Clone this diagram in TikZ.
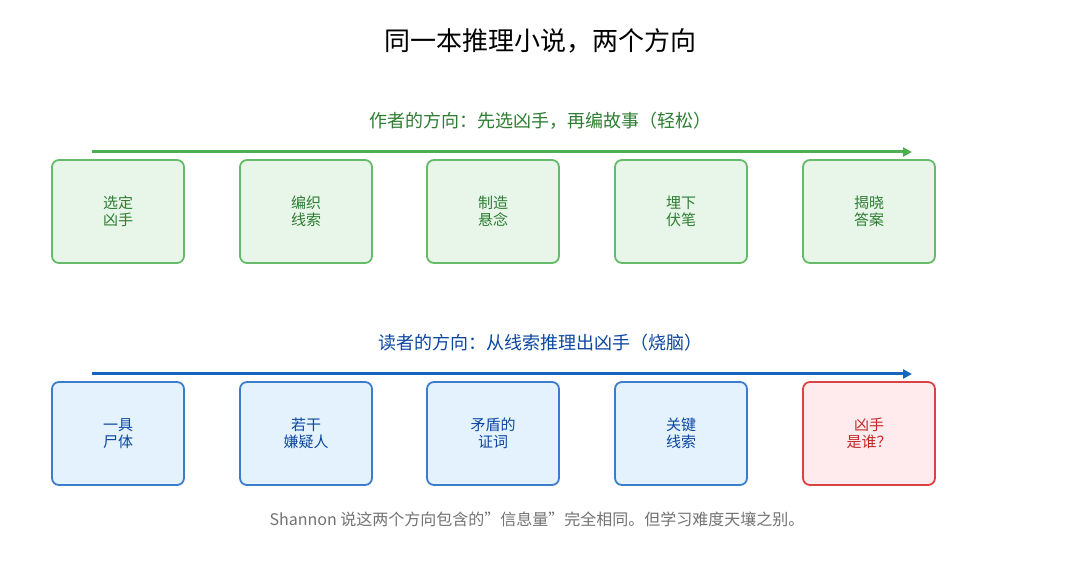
\documentclass[tikz,border=0pt]{standalone}
\usepackage{fontspec}
\setmainfont{Noto Sans CJK SC}
\usetikzlibrary{positioning,arrows.meta}
\definecolor{gline}{HTML}{66BB6A}
\definecolor{gfill}{HTML}{E8F5E9}
\definecolor{gtext}{HTML}{2E7D32}
\definecolor{garrow}{HTML}{4CAF50}
\definecolor{bline}{HTML}{3C7DCB}
\definecolor{bfill}{HTML}{E3F2FD}
\definecolor{btext}{HTML}{0D47A1}
\definecolor{barrow}{HTML}{1565C0}
\definecolor{rline}{HTML}{D94343}
\definecolor{rfill}{HTML}{FFEBEE}
\definecolor{rtext}{HTML}{C62828}
\tikzset{
  stage/.style={draw, line width=1.8pt, rounded corners=7pt, minimum width=132pt,
    minimum height=103pt, align=center, font=\fontsize{15}{17}\selectfont},
  gstep/.style={stage, draw=gline, fill=gfill, text=gtext},
  bstep/.style={stage, draw=bline, fill=bfill, text=btext},
  rstep/.style={stage, draw=rline, fill=rfill, text=rtext},
  flow/.style={line width=3pt, -{Triangle[length=9pt,width=9pt]}}
}
\begin{document}
\begin{tikzpicture}[x=1pt,y=-1pt]
  \useasboundingbox[fill=white] (0,0) rectangle (1080,561);
  % title
  \node (title) at (540,41) {\fontsize{26}{30}\selectfont 同一本推理小说，两个方向};
  % author direction
  \node[text=gtext] (ahead) at (540,121) {\fontsize{18}{22}\selectfont 作者的方向：先选凶手，再编故事（轻松）};
  \coordinate (as) at (92,152);
  \coordinate (ae) at (912,152);
  \draw[flow, garrow] (as) -- (ae);
  \node[gstep] (a1) at (118,211.5) {选定\\凶手};
  \node[gstep] (a2) at (306,211.5) {编织\\线索};
  \node[gstep] (a3) at (493,211.5) {制造\\悬念};
  \node[gstep] (a4) at (681,211.5) {埋下\\伏笔};
  \node[gstep] (a5) at (869,211.5) {揭晓\\答案};
  % reader direction
  \node[text=btext] (rhead) at (540,343) {\fontsize{18}{22}\selectfont 读者的方向：从线索推理出凶手（烧脑）};
  \coordinate (rs) at (92,374);
  \coordinate (re) at (912,374);
  \draw[flow, barrow] (rs) -- (re);
  \node[bstep] (r1) at (118,433.5) {一具\\尸体};
  \node[bstep] (r2) at (306,433.5) {若干\\嫌疑人};
  \node[bstep] (r3) at (493,433.5) {矛盾的\\证词};
  \node[bstep] (r4) at (681,433.5) {关键\\线索};
  \node[rstep] (r5) at (869,433.5) {凶手\\是谁？};
  % footer
  \node[text=black!55] (foot) at (537,519) {\fontsize{16}{20}\selectfont Shannon 说这两个方向包含的"信息量"完全相同。但学习难度天壤之别。};
\end{tikzpicture}
\end{document}
